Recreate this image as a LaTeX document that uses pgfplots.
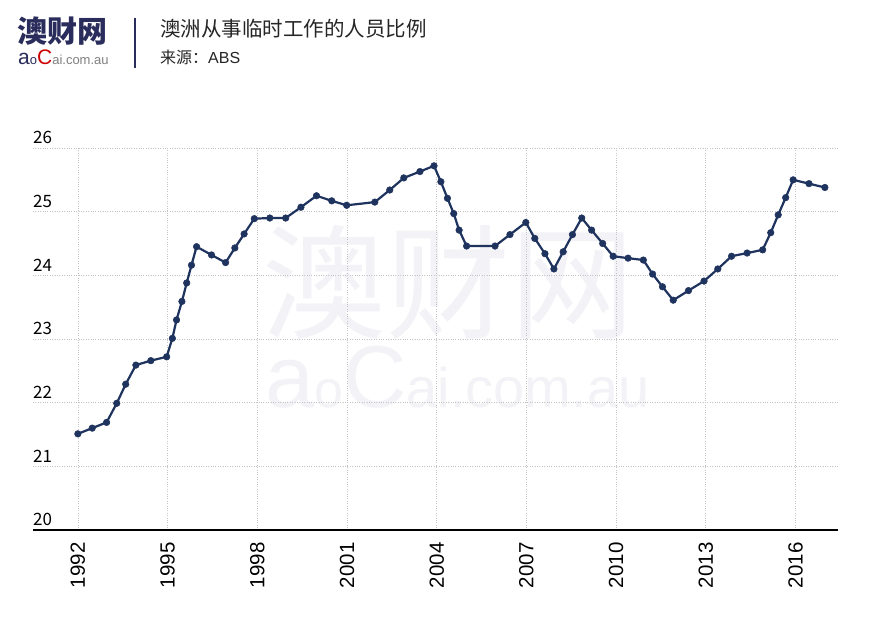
\documentclass[border=0pt]{standalone}
\usepackage{fontspec}
\setmainfont{Noto Sans CJK SC}
\newfontfamily\latinfont{Liberation Sans}
\usepackage{pgfplots}
\pgfplotsset{compat=1.18}
\definecolor{navy}{HTML}{1F335F}
\definecolor{logonavy}{HTML}{2A2D5C}
\definecolor{wm}{HTML}{F3F3F7}
\definecolor{gridc}{HTML}{C4C4C4}
\begin{document}
\begin{tikzpicture}
\begin{scope}[x=1pt,y=1pt]
\path[use as bounding box, fill=white] (0,0) rectangle (874,620);
% logo
\node[anchor=base west, inner sep=0, text=logonavy] at (17,577) {\fontsize{30}{30}\selectfont\bfseries 澳财网};
\node[anchor=base west, inner sep=0] at (18,555) {\latinfont{\color{logonavy}\fontsize{21}{21}\selectfont a}{\color{logonavy}\fontsize{13}{13}\selectfont o}{\color{red!80!black}\fontsize{21}{21}\selectfont C}{\color{gray}\fontsize{13}{13}\selectfont ai.com.au}};
\draw[logonavy, line width=1.8pt] (135,602) -- (135,552);
% title
\node[anchor=base west, inner sep=0, text=black!85] at (160,583) {\fontsize{20.5}{24}\selectfont 澳洲从事临时工作的人员比例};
\node[anchor=base west, inner sep=0, text=black!85] at (160,556) {\fontsize{16}{18}\selectfont 来源：\latinfont ABS};
% watermark
\node[anchor=base west, inner sep=0, text=wm] at (262,290) {\fontsize{124}{124}\selectfont 澳财网};
\node[anchor=base west, inner sep=0, text=wm] at (265,212) {\latinfont\fontsize{88}{88}\selectfont a{\fontsize{52}{52}\selectfont o}C{\fontsize{56}{56}\selectfont ai.com.au}};
\end{scope}
\begin{axis}[
  at={(33pt,90pt)}, anchor=south west,
  width=805pt, height=382pt, scale only axis,
  xmin=1990.5, xmax=2017.42, ymin=20, ymax=26,
  axis x line*=bottom, axis y line*=left,
  x axis line style={-, line width=1.8pt, black},
  y axis line style={draw=none},
  xtick={1992,1995,...,2016}, ytick={20,21,...,26},
  major tick length=0pt,
  grid=major,
  major grid style={dotted, gridc, line width=0.7pt},
  /pgf/number format/assume math mode=true,
  xticklabel={\pgfmathprintnumber[set thousands separator={}]{\tick}},
  xticklabel shift=9pt,
  xticklabel style={rotate=90, anchor=east, font=\latinfont\fontsize{20.5}{21}\selectfont},
  yticklabel style={anchor=south west, inner sep=0pt, xshift=0pt, yshift=4pt, font=\fontsize{17}{17}\selectfont},
  clip=false,
]
\addplot[navy, line width=2.2pt, mark=*, mark size=3.3pt, mark options={fill=navy, draw=navy, line width=0.5pt}] coordinates {
(1992.0,21.51) (1992.48,21.60) (1992.96,21.69) (1993.3,21.99) (1993.6,22.29) (1993.94,22.59)
(1994.44,22.66) (1994.97,22.72) (1995.16,23.01) (1995.3,23.30) (1995.48,23.59) (1995.64,23.88)
(1995.8,24.16) (1995.97,24.45) (1996.47,24.32) (1996.94,24.20) (1997.25,24.43) (1997.56,24.65)
(1997.9,24.89) (1998.42,24.90) (1998.95,24.90) (1999.46,25.07) (1999.98,25.25) (2000.49,25.17)
(2000.99,25.10) (2001.93,25.15) (2002.43,25.34) (2002.90,25.53) (2003.44,25.63) (2003.91,25.72)
(2004.14,25.47) (2004.36,25.21) (2004.57,24.97) (2004.75,24.71) (2005.0,24.46) (2005.95,24.46)
(2006.45,24.64) (2006.98,24.83) (2007.28,24.58) (2007.62,24.34) (2007.92,24.10) (2008.23,24.37)
(2008.54,24.64) (2008.85,24.90) (2009.18,24.71) (2009.55,24.50) (2009.90,24.30) (2010.40,24.27)
(2010.91,24.24) (2011.22,24.02) (2011.55,23.82) (2011.91,23.61) (2012.42,23.76) (2012.94,23.91)
(2013.40,24.10) (2013.86,24.30) (2014.38,24.35) (2014.90,24.40) (2015.17,24.67) (2015.42,24.95)
(2015.67,25.22) (2015.92,25.50) (2016.45,25.44) (2016.98,25.38)
};
\end{axis}
\end{tikzpicture}
\end{document}
